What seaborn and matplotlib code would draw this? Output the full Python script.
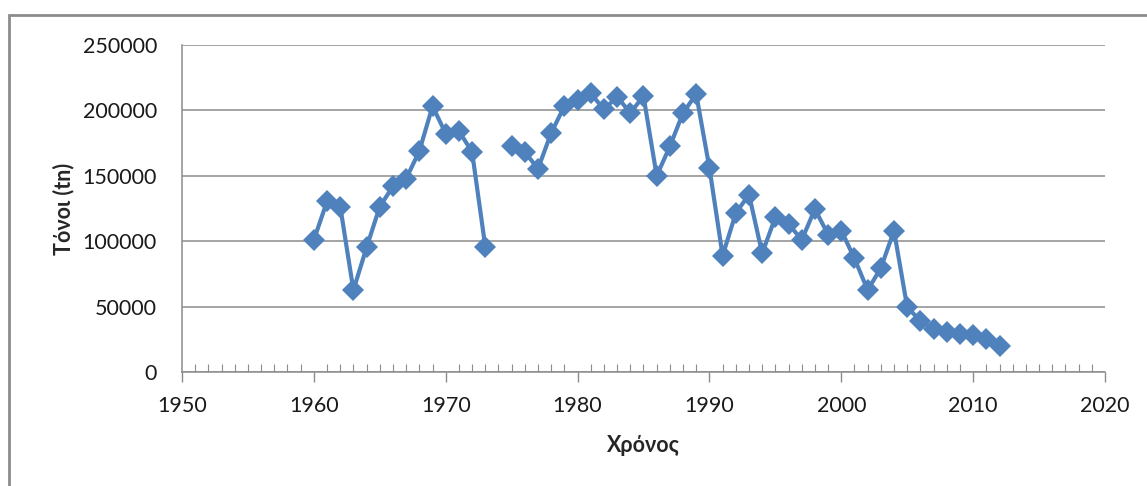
import numpy as np
import pandas as pd
import matplotlib
matplotlib.use("Agg")
import matplotlib.pyplot as plt
from matplotlib.ticker import MultipleLocator
from matplotlib.patches import Rectangle
import seaborn as sns

# Annual tonnage; 1974 has no record, so the line is split there
years_a = [1960, 1961, 1962, 1963, 1964, 1965, 1966, 1967, 1968, 1969,
           1970, 1971, 1972, 1973]
tons_a = [101000, 130500, 126500, 62600, 95300, 126500, 141900, 147800,
          168900, 203200, 182300, 184300, 168200, 95900]

years_b = [1975, 1976, 1977, 1978, 1979, 1980, 1981, 1982, 1983, 1984,
           1985, 1986, 1987, 1988, 1989, 1990, 1991, 1992, 1993, 1994,
           1995, 1996, 1997, 1998, 1999, 2000, 2001, 2002, 2003, 2004,
           2005, 2006, 2007, 2008, 2009, 2010, 2011, 2012]
tons_b = [172500, 168200, 155400, 182800, 203200, 207800, 213000, 200700,
          210400, 198100, 210900, 150000, 172500, 198100, 212400, 156000,
          89000, 121400, 135700, 90700, 118300, 113200, 101000, 124500,
          105100, 108100, 86800, 62600, 79500, 108000, 49500, 39100,
          32700, 30900, 28900, 28000, 25100, 19600]

x_label = "Χρόνος"
y_label = "Τόνοι (tn)"

df = pd.DataFrame({
    "year": years_a + years_b,
    "tons": tons_a + tons_b,
    "segment": [0] * len(years_a) + [1] * len(years_b),
})

sns.set_theme(style="white")
plt.rcParams["font.family"] = ["Lato", "DejaVu Sans"]

fig = plt.figure(figsize=(11.47, 4.86), dpi=100)
ax = fig.add_axes([182 / 1147, 1 - 372 / 486, (1105 - 182) / 1147, (372 - 45) / 486])

blue = "#4F81BD"
sns.lineplot(data=df, x="year", y="tons", units="segment", estimator=None,
             color=blue, linewidth=3.0, marker="D", markersize=11,
             markeredgewidth=0, ax=ax, legend=False)

ax.set_xlim(1950, 2020)
ax.set_ylim(0, 250000)
ax.xaxis.set_major_locator(MultipleLocator(10))
ax.xaxis.set_minor_locator(MultipleLocator(1))
ax.yaxis.set_major_locator(MultipleLocator(50000))

grid_col = "#8C8C8C"
ax.grid(axis="y", color=grid_col, linewidth=1.1)
ax.set_axisbelow(True)
for side in ("top", "right"):
    ax.spines[side].set_visible(False)
for side in ("left", "bottom"):
    ax.spines[side].set_color(grid_col)
    ax.spines[side].set_linewidth(1.1)

ax.tick_params(axis="x", which="major", direction="out", length=7,
               width=1.0, color=grid_col, pad=10, labelsize=15.5,
               labelcolor="#1a1a1a", bottom=True)
ax.tick_params(axis="x", which="minor", direction="in", length=6,
               width=0.8, color=grid_col, bottom=True)
ax.tick_params(axis="y", which="major", length=0, pad=18, labelsize=15.5,
               labelcolor="#1a1a1a", left=True)

ax.set_xlabel(x_label, fontsize=15.5, fontweight="bold", labelpad=14)
ax.set_ylabel(y_label, fontsize=15.5, fontweight="bold", labelpad=6)

# Chart-area frame (top and left edges visible)
fig.patches.append(Rectangle((9 / 1147, -0.1), 1.2, 1 - 15 / 486 + 0.1,
                             transform=fig.transFigure, fill=False,
                             edgecolor="#8C8C8C", linewidth=2.0))

fig.savefig("out.png", dpi=100)
